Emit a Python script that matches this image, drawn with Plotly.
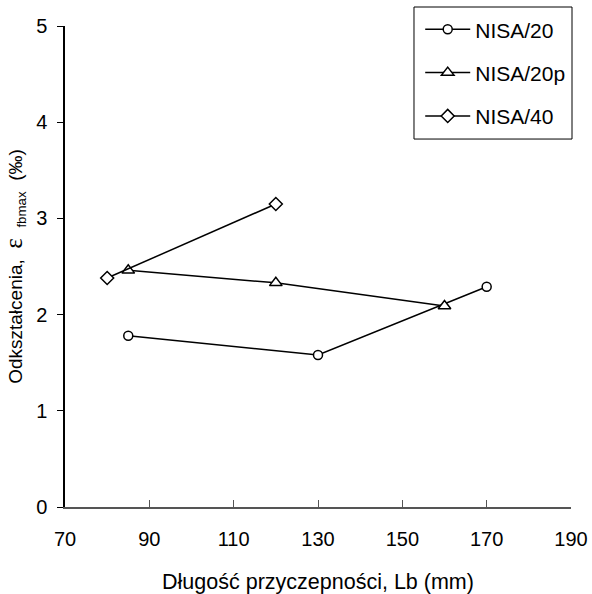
import plotly.graph_objects as go

x_nisa20 = [85, 130, 170]
y_nisa20 = [1.78, 1.58, 2.29]
x_nisa20p = [85, 120, 160]
y_nisa20p = [2.46, 2.33, 2.09]
x_nisa40 = [80, 120]
y_nisa40 = [2.38, 3.15]
names = ["NISA/20", "NISA/20p", "NISA/40"]
x_ticks = [70, 90, 110, 130, 150, 170, 190]
y_ticks = [0, 1, 2, 3, 4, 5]

font = "Liberation Sans, Arial, sans-serif"
fig = go.Figure()
for xs, ys, nm, sym, sz in [(x_nisa20, y_nisa20, names[0], "circle", 9),
                             (x_nisa20p, y_nisa20p, names[1], "triangle-up", 11),
                             (x_nisa40, y_nisa40, names[2], "diamond", 10)]:
    fig.add_trace(go.Scatter(x=xs, y=ys, name=nm, mode="lines+markers", legendgroup=nm,
                             line=dict(color="black", width=1.5),
                             marker=dict(symbol=sym, size=sz, color="white",
                                         line=dict(color="black", width=1.5))))

# legend frame
fig.add_shape(type="rect", xref="paper", yref="paper",
              x0=0.6897, x1=1.002, y0=0.765, y1=1.0395,
              line=dict(color="black", width=1), fillcolor="rgba(0,0,0,0)", layer="above")

ytitle = ("Odkształcenia,&nbsp;&nbsp;<span style='font-size:25px;font-family:Liberation Serif'>ε</span>"
          "&nbsp;&nbsp;<sub>fbmax</sub>&nbsp;&nbsp;(‰)")

fig.update_layout(
    width=592, height=594,
    margin=dict(l=65, r=21, t=26, b=87, autoexpand=False),
    paper_bgcolor="white", plot_bgcolor="white",
    font=dict(family=font, size=20, color="black"),
    legend=dict(x=0.702, y=1.035, xanchor="left", yanchor="top",
                borderwidth=0, bgcolor="rgba(0,0,0,0)",
                font=dict(size=21), tracegroupgap=13, itemwidth=45),
    xaxis=dict(range=[70, 190], tickvals=x_ticks, showgrid=False, zeroline=False,
               showline=True, linecolor="#555", linewidth=1.5,
               ticks="inside", ticklen=7, tickcolor="#555",
               ticklabelstandoff=13, automargin=False, ticklabeloverflow="allow",
               title=dict(text="Długość przyczepności, Lb (mm)", font=dict(size=21.5), standoff=31)),
    yaxis=dict(range=[0, 5], tickvals=y_ticks, showgrid=False, zeroline=False,
               showline=True, linecolor="black", linewidth=1.5,
               ticks="outside", ticklen=6, tickcolor="black",
               ticklabelstandoff=6, automargin=False,
               title=dict(text=ytitle, font=dict(size=19), standoff=10)),
)
fig.write_html("out.html", config={"displayModeBar": False},
               post_script="document.body.style.margin='0';document.body.style.overflow='hidden';")
